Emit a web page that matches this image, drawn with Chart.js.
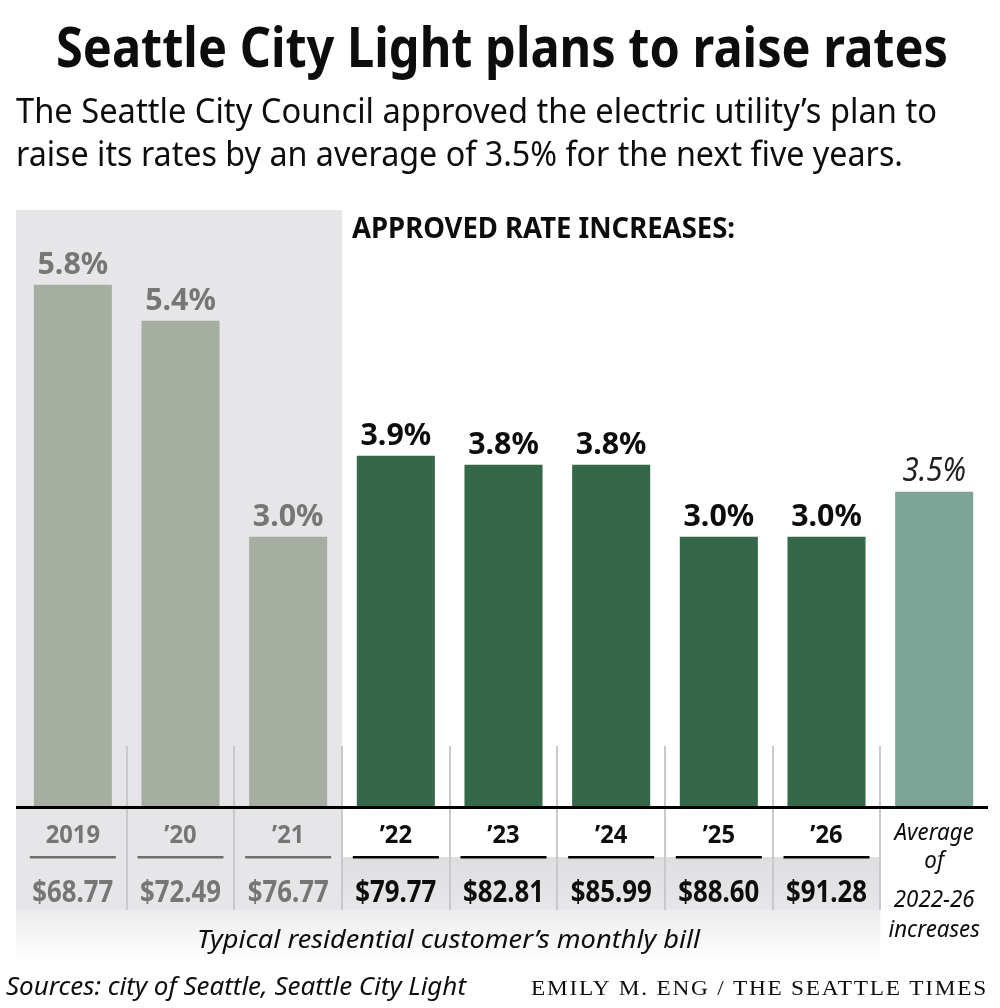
<!DOCTYPE html>
<html>
<head>
<meta charset="utf-8">
<script src="https://cdn.jsdelivr.net/npm/chart.js@4.4.1/dist/chart.umd.min.js"></script>
<style>
  html, body { margin: 0; padding: 0; background: #fff; }
  #wrap { position: relative; width: 1000px; height: 1008px; }
</style>
</head>
<body>
<div id="wrap"><canvas id="chart" width="1000" height="1008"></canvas></div>
<script>
const years = ['2019', '\u201920', '\u201921', '\u201922', '\u201923', '\u201924', '\u201925', '\u201926', 'Average'];
const rateIncrease = [5.8, 5.4, 3.0, 3.9, 3.8, 3.8, 3.0, 3.0, 3.5];
const monthlyBill = [68.77, 72.49, 76.77, 79.77, 82.81, 85.99, 88.60, 91.28];
const avgLabelLines = ['Average', 'of', '2022-26', 'increases'];

const PAST = 3; // first three bars are already in effect
const GRAY_BAR = '#a6ada1', GREEN_BAR = '#356749', AVG_BAR = '#7ca396';
const GRAY_TXT = '#767676', DARK = '#0d0d0d';
const barColors = years.map((y, i) => i < PAST ? GRAY_BAR : (i === years.length - 1 ? AVG_BAR : GREEN_BAR));

// draw text, optionally squeezed/stretched to a given width (sx = horizontal scale)
function txt(ctx, s, x, y, o) {
  ctx.save();
  ctx.font = o.font;
  ctx.fillStyle = o.color || DARK;
  ctx.textBaseline = 'alphabetic';
  if (o.spacing) ctx.letterSpacing = o.spacing;
  let sx = o.sx || 1;
  if (o.width) sx = o.width / ctx.measureText(s).width;
  ctx.translate(x, y);
  ctx.scale(sx, 1);
  ctx.textAlign = o.align || 'left';
  ctx.fillText(s, 0, 0);
  ctx.restore();
}

const backdrop = {
  id: 'backdrop',
  beforeDatasetsDraw(chart) {
    const { ctx, chartArea: a, scales: { x } } = chart;
    const step = x.getPixelForValue(1) - x.getPixelForValue(0);
    const bound = (i) => x.getPixelForValue(i) + step / 2;
    ctx.save();
    // panel behind the past years
    ctx.fillStyle = '#e6e6e8';
    ctx.fillRect(16, a.top, bound(PAST - 1) - 16, 910 - a.top);
    // bill band for the approved years
    let g = ctx.createLinearGradient(0, 857, 0, 910);
    g.addColorStop(0, '#dedee0');
    g.addColorStop(1, '#e7e7e9');
    ctx.fillStyle = g;
    ctx.fillRect(bound(PAST - 1), 857, bound(years.length - 2) - bound(PAST - 1), 53);
    g = ctx.createLinearGradient(0, 910, 0, 962);
    g.addColorStop(0, '#ececee');
    g.addColorStop(1, '#ffffff');
    ctx.fillStyle = g;
    ctx.fillRect(16, 910, bound(years.length - 2) - 16, 52);
    // separators between columns
    ctx.strokeStyle = '#c9c9cb';
    ctx.lineWidth = 2;
    for (let i = 0; i < years.length - 1; i++) {
      const bx = Math.round(bound(i));
      ctx.beginPath();
      ctx.moveTo(bx, 746);
      ctx.lineTo(bx, 910);
      ctx.stroke();
    }
    ctx.restore();
  },
  afterDatasetsDraw(chart) {
    const { ctx, chartArea: a, scales: { x, y } } = chart;
    ctx.save();
    // baseline
    ctx.fillStyle = '#000';
    ctx.fillRect(16, a.bottom - 1, 972, 3);

    years.forEach((lab, i) => {
      const cx = x.getPixelForValue(i);
      const top = y.getPixelForValue(rateIncrease[i]);
      const past = i < PAST;
      const isAvg = i === years.length - 1;
      const col = past ? GRAY_TXT : DARK;
      const pct = rateIncrease[i].toFixed(1) + '%';
      if (isAvg) {
        txt(ctx, pct, cx, top - 11, { font: 'italic 32px "Noto Sans"', color: '#222', align: 'center', sx: 0.92 });
        const lines = [840, 868, 907, 937];
        avgLabelLines.forEach((s, k) => txt(ctx, s, cx, lines[k], { font: 'italic 24px "Noto Sans"', color: DARK, align: 'center', sx: 0.93 }));
        return;
      }
      txt(ctx, pct, cx, top - 11, { font: 'bold 31px "Noto Sans"', color: col, align: 'center', sx: 0.98 });
      txt(ctx, lab, cx, 843, { font: 'bold 25px "Noto Sans"', color: col, align: 'center', sx: 0.95 });
      ctx.fillStyle = past ? '#6f6f6f' : '#000';
      ctx.fillRect(cx - 43, 856, 86, 2.5);
      txt(ctx, '$' + monthlyBill[i].toFixed(2), cx, 902, { font: 'bold 30px "Noto Sans"', color: col, align: 'center', sx: 0.86 });
    });
    ctx.restore();

    // headings and credits
    txt(ctx, 'Seattle City Light plans to raise rates', 56, 67, { font: 'bold 55px "Noto Sans"', width: 892 });
    txt(ctx, 'The Seattle City Council approved the electric utility\u2019s plan to', 16, 123, { font: '35px "Noto Sans"', width: 921 });
    txt(ctx, 'raise its rates by an average of 3.5% for the next five years.', 16, 166, { font: '35px "Noto Sans"', width: 887 });
    txt(ctx, 'APPROVED RATE INCREASES:', 352, 238, { font: 'bold 28px "Noto Sans"', width: 383 });
    txt(ctx, 'Typical residential customer\u2019s monthly bill', 197, 948, { font: 'italic 25px "Noto Sans"', width: 503 });
    txt(ctx, 'Sources: city of Seattle, Seattle City Light', 6, 995, { font: 'italic 25px "Noto Sans"', width: 460 });
    txt(ctx, 'EMILY M. ENG / THE SEATTLE TIMES', 531, 995, { font: '20px "Liberation Serif"', spacing: '1.5px', width: 457 });
  }
};

new Chart(document.getElementById('chart'), {
  type: 'bar',
  data: {
    labels: years,
    datasets: [{
      data: rateIncrease,
      backgroundColor: barColors,
      borderWidth: 0,
      barPercentage: 0.725,
      categoryPercentage: 1
    }]
  },
  options: {
    responsive: false,
    animation: false,
    events: [],
    layout: { padding: { top: 210, bottom: 201, left: 19, right: 12 } },
    plugins: { legend: { display: false }, tooltip: { enabled: false } },
    scales: {
      x: { display: false },
      y: { display: false, min: 0, max: 6.63 }
    }
  },
  plugins: [backdrop]
});
</script>
</body>
</html>
